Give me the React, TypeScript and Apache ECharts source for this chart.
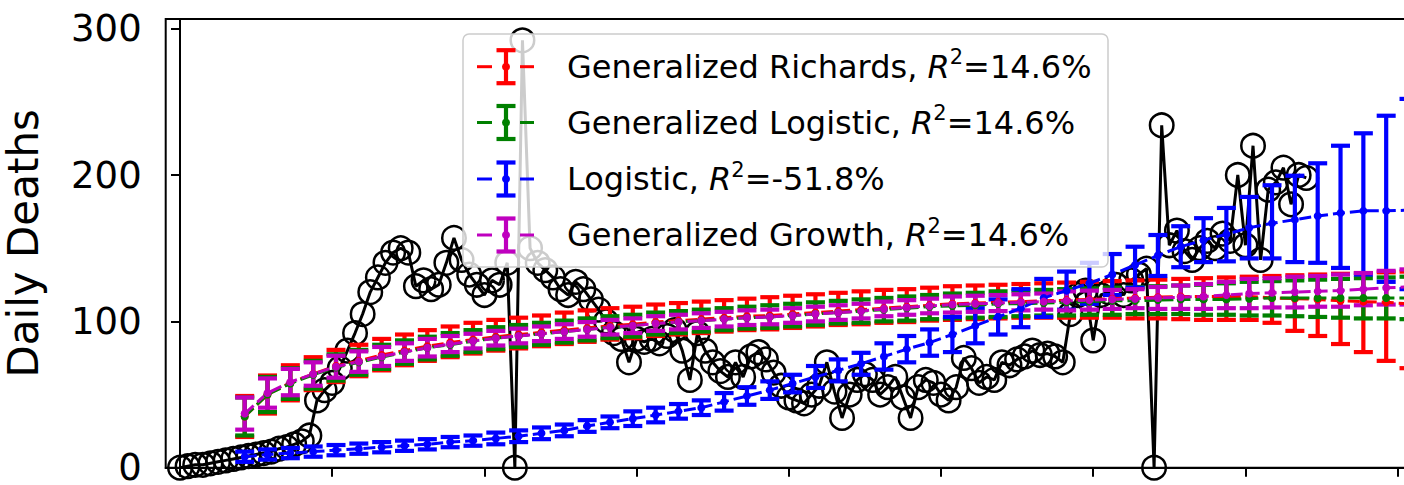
import React, { useEffect, useRef } from "react";
import * as echarts from "echarts";

// Observed daily deaths, one value per day (day index = position)
const observedDeaths = [
  0, 1, 2, 2, 3, 4, 5, 6, 7, 8,
  9, 10, 11, 13, 14, 16, 18, 22, 46, 53,
  58, 68, 80, 92, 105, 120, 130, 140, 147, 150,
  147, 124, 128, 122, 125, 140, 157, 142, 132, 125,
  118, 128, 125, 140, 0, 292, 150, 140, 135, 130,
  122, 118, 127, 122, 115, 108, 100, 92, 88, 72,
  88, 86, 88, 85, 90, 94, 80, 60, 92, 80,
  72, 66, 62, 72, 62, 76, 79, 74, 65, 56,
  48, 46, 44, 50, 56, 72, 52, 34, 50, 60,
  64, 60, 50, 55, 62, 48, 34, 55, 60, 58,
  50, 46, 55, 75, 68, 58, 62, 60, 72, 70,
  74, 76, 80, 77, 78, 76, 72, 105, 118, 121,
  87, 118, 120, 125, 118, 128, 132, 136, 0, 234,
  152, 162, 148, 142, 150, 155, 150, 160, 155, 200,
  152, 220, 142, 190, 195, 205, 180, 200, 198,
];

// Days at which the fitted models are evaluated
const modelDays = [
  8.5, 11.5, 14.5, 17.5, 20.5, 23.5, 26.5, 29.5, 32.5, 35.5,
  38.5, 41.5, 44.5, 47.5, 50.5, 53.5, 56.5, 59.5, 62.5, 65.5,
  68.5, 71.5, 74.5, 77.5, 80.5, 83.5, 86.5, 89.5, 92.5, 95.5,
  98.5, 101.5, 104.5, 107.5, 110.5, 113.5, 116.5, 119.5, 122.5, 125.5,
  128.5, 131.5, 134.5, 137.5, 140.5, 143.5, 146.5, 149.5, 152.5, 155.5,
  158.5, 161.5,
];

// Generalized Richards
const richardsMid = [
  35, 50, 58, 64, 69.5, 73, 77, 80, 83, 85.5,
  87.5, 89.5, 91, 92.5, 94, 95.5, 97, 98, 99.5, 100.5,
  101.5, 102.5, 103.5, 104, 105, 106, 107, 108, 109, 110,
  111, 112, 112.5, 113, 113.5, 114, 114.5, 115, 115.5, 116,
  116.5, 117, 117, 117, 117, 116, 115.5, 115, 114, 113.5,
  113, 112,
];
const richardsLow = [
  21, 37, 46, 53, 58.5, 62.5, 66.5, 70, 73, 75.5,
  78, 80, 81.5, 83, 84.5, 86, 87.5, 88.5, 90, 91,
  92, 93, 94, 94.5, 95.5, 96.5, 97.5, 98, 99, 99.5,
  100.5, 101, 101.5, 102, 102.5, 102.5, 102.5, 102.5, 102.5, 102,
  102, 101.5, 101, 101, 101, 99, 93.5, 90, 84.5, 79,
  73, 68,
];
const richardsHigh = [
  49, 63, 70, 75.5, 80.5, 84, 88, 91, 94, 96.5,
  99, 101, 102.5, 104, 106, 107.5, 109, 110, 111.5, 112.5,
  113.5, 114.5, 115.5, 116.5, 117.5, 118.5, 119.5, 120.5, 121.5, 122,
  123, 124, 124.5, 125, 125.5, 126, 126.5, 127, 127.5, 128,
  128.5, 129, 129.5, 130, 130.5, 131, 131.5, 132, 132.5, 133,
  133.5, 134,
];

// Generalized Logistic
const genLogisticMid = [
  35, 50, 57.5, 63.5, 68.5, 72, 75.5, 79, 82, 84,
  86.5, 88.5, 90, 91.5, 93, 94.5, 96, 97, 98.5, 99.5,
  100.5, 101.5, 102.5, 103, 104, 105, 106, 107, 108, 109,
  110, 110.5, 111, 112, 112, 112.5, 113, 113.5, 114, 114,
  114.5, 115, 115, 115, 115.5, 116, 116, 116, 116, 116,
  116, 116,
];
const genLogisticLow = [
  22, 38, 47, 54, 59.5, 63.5, 67.5, 71, 74, 76.5,
  79, 81, 82.5, 84, 85.5, 87, 88.5, 89.5, 91, 92,
  93, 94, 95, 95.5, 96.5, 97.5, 98.5, 99, 100, 100.5,
  101.5, 102, 102.5, 103, 103.5, 104, 104, 104.5, 104.5, 105,
  105, 105, 104.5, 104.5, 104, 104, 103.5, 103, 102.5, 102,
  102, 101.5,
];
const genLogisticHigh = [
  48, 62, 68, 73, 77.5, 80.5, 84, 87, 89.5, 92,
  94, 96, 97.5, 99, 100.5, 102, 103.5, 104.5, 106, 107,
  108, 109, 110, 111, 112, 113, 114, 115, 116, 117,
  118, 119, 119.5, 120.5, 121, 121.5, 122, 122.5, 123, 123.5,
  124, 124.5, 125, 126, 127, 127.5, 128, 128.5, 129, 129.5,
  130, 130.5,
];

// Logistic
const logisticMid = [
  7.5, 9, 10, 11, 12, 13, 14, 15, 16, 17.5,
  18.5, 20, 21.5, 23.5, 25.5, 28.5, 31, 33.5, 36, 38.5,
  41, 45, 49, 53, 57.5, 62, 66.5, 71, 76, 81,
  85.5, 91, 97, 103, 109, 116, 121, 126, 132, 138.5,
  145, 151, 155.5, 159.5, 164, 167, 169.5, 172, 174, 175.5,
  175.5, 176,
];
const logisticLow = [
  4, 5.5, 6.5, 7.5, 8.5, 9.5, 10.5, 11.5, 12.5, 14,
  15, 16, 17.5, 19.5, 21.5, 24.5, 27, 28.5, 31, 33.5,
  36, 39, 43, 47, 51.5, 54.5, 59, 63.5, 67, 72,
  76.5, 79, 85, 91, 96, 103, 108, 112, 118, 123,
  131, 137, 140.5, 141, 143, 143, 140.5, 140, 136.5, 132,
  127, 122,
];
const logisticHigh = [
  11, 12.5, 13.5, 14.5, 15.5, 16.5, 17.5, 18.5, 19.5, 21,
  22, 24, 25.5, 27.5, 29.5, 32.5, 35, 38.5, 41, 43.5,
  46, 51, 55, 59, 63.5, 69.5, 74, 78.5, 85, 90,
  94.5, 103, 109, 115, 122, 129, 134, 140, 146, 151,
  159, 165, 170.5, 177.5, 185, 193, 199.5, 208, 220, 228.5,
  240.5, 252,
];

// Generalized Growth (symmetric spread)
const growthMid = [
  37, 51, 58.5, 64, 69, 72.5, 76, 79, 82, 84.5,
  86.5, 88.5, 90, 91.5, 93, 94.5, 96, 97, 98.5, 99.5,
  100.5, 101.5, 102.5, 103, 104, 105, 106, 107, 108.5, 109.5,
  110.5, 111.5, 112, 112.5, 113, 113.5, 114, 114.5, 115, 115.5,
  116, 116.5, 117, 118, 119, 119.5, 120, 120.5, 121, 122,
  123, 123.5,
];
const growthErr = [
  11, 10, 9, 8, 7.5, 7, 6.5, 6, 6, 5.5,
  5, 5, 5, 5, 5, 5, 5, 5, 5, 5,
  5, 5, 5, 5, 5, 5, 5, 5, 5, 5,
  5, 5.5, 5.5, 5.5, 5.5, 5.5, 6.5, 6.5, 6.5, 6.5,
  7.5, 8, 8.5, 9, 10, 10, 10.5, 10.5, 11, 11,
  11.5, 12,
];

const xTickValues = [0, 20, 40, 60, 80, 100, 120, 140, 160];
const yTickValues = [0, 100, 200, 300];

const modelNames = ["Generalized Richards", "Generalized Logistic", "Logistic", "Generalized Growth"];
const modelR2 = ["14.6%", "14.6%", "-51.8%", "14.6%"];
const modelColors = ["#ff0000", "#008000", "#0000ff", "#bf00bf"];

const FONT = "DejaVu Sans";

export default function App() {
  const ref = useRef<HTMLDivElement>(null);

  useEffect(() => {
    if (!ref.current) return;
    const chart = echarts.init(ref.current, null, { renderer: "svg" });

    const models = [
      { mid: richardsMid, low: richardsLow, high: richardsHigh },
      { mid: genLogisticMid, low: genLogisticLow, high: genLogisticHigh },
      { mid: logisticMid, low: logisticLow, high: logisticHigh },
      {
        mid: growthMid,
        low: growthMid.map((v, i) => v - growthErr[i]),
        high: growthMid.map((v, i) => v + growthErr[i]),
      },
    ];

    const series: any[] = [];
    series.push({
      type: "line",
      name: "Observed",
      data: observedDeaths.map((v, i) => [i, v]),
      symbol: "circle",
      symbolSize: 23.5,
      showAllSymbol: true,
      lineStyle: { color: "#000", width: 3 },
      itemStyle: { color: "rgba(0,0,0,0)", borderColor: "#000", borderWidth: 2.5 },
      z: 2,
      silent: true,
    });

    models.forEach((m, mi) => {
      const color = modelColors[mi];
      series.push({
        type: "custom",
        name: modelNames[mi] + " bars",
        data: modelDays.map((d, i) => [d, m.low[i], m.high[i]]),
        encode: { x: 0, y: [1, 2] },
        z: 3,
        silent: true,
        renderItem: (params: any, api: any) => {
          const x = api.value(0);
          const lo = api.coord([x, api.value(1)]);
          const hi = api.coord([x, api.value(2)]);
          const w = 9.5;
          const st = { stroke: color, lineWidth: 4.2 };
          return {
            type: "group",
            children: [
              { type: "line", shape: { x1: lo[0], y1: lo[1], x2: hi[0], y2: hi[1] }, style: st },
              { type: "line", shape: { x1: lo[0] - w, y1: lo[1], x2: lo[0] + w, y2: lo[1] }, style: st },
              { type: "line", shape: { x1: hi[0] - w, y1: hi[1], x2: hi[0] + w, y2: hi[1] }, style: st },
            ],
          };
        },
      });
    });

    models.forEach((m, mi) => {
      const color = modelColors[mi];
      series.push({
        type: "line",
        name: modelNames[mi],
        data: modelDays.map((d, i) => [d, m.mid[i]]),
        symbol: "circle",
        symbolSize: 8,
        showAllSymbol: true,
        lineStyle: { color, width: 3, type: [12, 5] },
        itemStyle: { color, borderWidth: 0 },
        z: 4,
        silent: true,
      });
    });

    const rowsY = [66.7, 122.5, 179, 235];
    const legendEls: any[] = [
      {
        type: "rect",
        z: 100,
        silent: true,
        shape: { x: 463, y: 34, width: 645, height: 233, r: 6 },
        style: { fill: "rgba(255,255,255,0.8)", stroke: "#cccccc", lineWidth: 1.5 },
      },
    ];
    rowsY.forEach((y, i) => {
      const color = modelColors[i];
      const cx = 506;
      const st = { stroke: color, lineWidth: 3 };
      const bs = { stroke: color, lineWidth: 4.2 };
      legendEls.push(
        { type: "line", z: 101, silent: true, shape: { x1: 477, y1: y, x2: 492, y2: y }, style: st },
        { type: "line", z: 101, silent: true, shape: { x1: 520, y1: y, x2: 534, y2: y }, style: st },
        { type: "line", z: 101, silent: true, shape: { x1: cx, y1: y - 16.5, x2: cx, y2: y + 16.5 }, style: bs },
        { type: "line", z: 101, silent: true, shape: { x1: cx - 9.5, y1: y - 16.5, x2: cx + 9.5, y2: y - 16.5 }, style: bs },
        { type: "line", z: 101, silent: true, shape: { x1: cx - 9.5, y1: y + 16.5, x2: cx + 9.5, y2: y + 16.5 }, style: bs },
        { type: "circle", z: 102, silent: true, shape: { cx, cy: y, r: 4 }, style: { fill: color } },
        {
          type: "text",
          z: 102,
          silent: true,
          x: 567,
          y,
          style: {
            text: `{n|${modelNames[i]}, }{i|R}{s|2}{n|=${modelR2[i]}}`,
            align: "left",
            verticalAlign: "middle",
            fill: "#000",
            rich: {
              n: { fontSize: 32, fontFamily: FONT, fill: "#000", lineHeight: 40 },
              i: { fontSize: 32, fontFamily: FONT, fontStyle: "italic", fill: "#000", lineHeight: 40 },
              s: { fontSize: 21, fontFamily: FONT, fill: "#000", verticalAlign: "top", lineHeight: 40 },
            },
          },
        }
      );
    });

    chart.setOption({
      animation: false,
      backgroundColor: "#ffffff",
      grid: {
        left: 165.7,
        top: 19,
        right: 26.3,
        bottom: 17.3,
        containLabel: false,
        outerBoundsMode: "none",
        show: true,
        borderColor: "#000",
        borderWidth: 2,
        backgroundColor: "transparent",
      },
      xAxis: {
        type: "value",
        min: -1.88,
        max: 170,
        axisLine: { show: true, lineStyle: { color: "#000", width: 2 } },
        axisTick: { show: true, inside: false, length: 9, lineStyle: { color: "#000", width: 2 }, customValues: xTickValues },
        axisLabel: { show: false },
        splitLine: { show: false },
      },
      yAxis: {
        type: "value",
        min: 0,
        max: 306.6,
        name: "Daily Deaths",
        nameLocation: "middle",
        nameGap: 121,
        nameTextStyle: { fontSize: 42, fontFamily: FONT, color: "#000" },
        axisLine: { show: true, lineStyle: { color: "#000", width: 2 } },
        axisTick: { show: true, inside: false, length: 9, lineStyle: { color: "#000", width: 2 }, customValues: yTickValues },
        axisLabel: { color: "#000", fontSize: 37, fontFamily: FONT, margin: 24, customValues: yTickValues },
        splitLine: { show: false },
      },
      graphic: { elements: legendEls },
      series,
    });

    return () => chart.dispose();
  }, []);

  return (
    <div
      style={{
        position: "fixed",
        left: 0,
        top: 0,
        width: 1404,
        height: 485,
        overflow: "hidden",
        background: "#fff",
      }}
    >
      <div ref={ref} style={{ width: 1500, height: 485 }} />
    </div>
  );
}
